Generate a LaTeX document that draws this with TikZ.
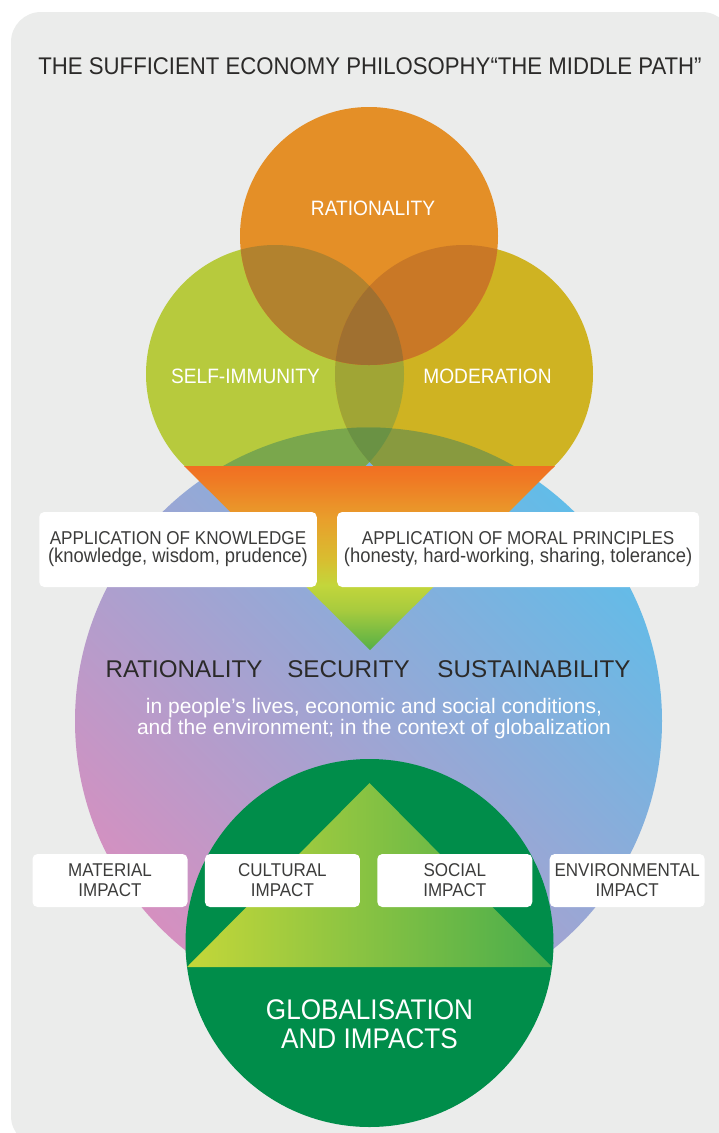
\documentclass[tikz,border=0pt]{standalone}
\usepackage{fontspec}
\setmainfont{Liberation Sans}
\newfontfamily\narrowfont[FakeStretch=0.92]{Liberation Sans}
\usetikzlibrary{positioning}

\definecolor{bggray}{HTML}{EBECEB}
\definecolor{ratorange}{HTML}{E48F27}
\definecolor{immgreen}{HTML}{B7CA3D}
\definecolor{modyellow}{HTML}{CFB322}
\definecolor{ratimm}{HTML}{B2822E}
\definecolor{ratmod}{HTML}{C97826}
\definecolor{ratimmmod}{HTML}{A07030}
\definecolor{immmod}{HTML}{A0A535}
\definecolor{lowimm}{HTML}{7AA74C}
\definecolor{lowmod}{HTML}{889A3F}
\definecolor{lowboth}{HTML}{6A9244}
\definecolor{corepink}{HTML}{D590C0}
\definecolor{corelav}{HTML}{A8A9D8}
\definecolor{coreblue}{HTML}{62BCE8}
\definecolor{globgreen}{HTML}{008D4A}
\definecolor{trileft}{HTML}{C4D739}
\definecolor{trimid}{HTML}{8CC043}
\definecolor{triright}{HTML}{48AD4C}
\definecolor{darktext}{HTML}{2B2A29}
\definecolor{boxtext}{HTML}{3C3C3B}
\definecolor{fo1}{HTML}{F16F22}
\definecolor{fo2}{HTML}{EF7A24}
\definecolor{fo3}{HTML}{E8A02C}
\definecolor{fo4}{HTML}{D8BE30}
\definecolor{fo5}{HTML}{C3D63B}
\definecolor{fo6}{HTML}{A8CB3E}
\definecolor{fo7}{HTML}{55B046}

% funnel: green at the tip, orange at the top
\pgfdeclareverticalshading{funnel}{100bp}{color(0bp)=(fo7); color(25bp)=(fo7);
  color(35.9bp)=(fo6); color(42.7bp)=(fo5); color(49.5bp)=(fo4);
  color(60.3bp)=(fo3); color(71.2bp)=(fo2); color(75bp)=(fo1); color(100bp)=(fo1)}

\tikzset{
  titletext/.style={text=darktext, anchor=base, inner sep=0pt,
    font=\narrowfont\fontsize{24.1}{24}\selectfont},
  circlelabel/.style={text=white, anchor=base, inner sep=0pt,
    font=\narrowfont\fontsize{20.8}{21}\selectfont},
  keyword/.style={text=darktext, anchor=base, inner sep=0pt,
    font=\fontsize{24.2}{24}\selectfont},
  whitelines/.style={text=white, align=center, inner sep=0pt,
    font=\fontsize{21}{21}\selectfont},
  infobox/.style={fill=white, rounded corners=5pt, align=center, text=boxtext,
    inner sep=0pt, minimum height=75pt,
    font=\narrowfont\fontsize{18.6}{18}\selectfont},
  impactbox/.style={fill=white, rounded corners=5pt, align=center, text=boxtext,
    inner sep=0pt, minimum width=155pt, minimum height=53pt,
    font=\narrowfont\fontsize{18.5}{20}\selectfont},
  globtext/.style={text=white, align=center, inner sep=0pt,
    font=\narrowfont\fontsize{28.4}{29}\selectfont}
}

\def\rad{129}

\begin{document}
\begin{tikzpicture}[x=1pt,y=-1pt]
  \useasboundingbox (0,0) rectangle (718,1133);
  \fill[bggray, rounded corners=30pt] (11,12) rectangle (732,1146);

  \coordinate (rat) at (369,236);
  \coordinate (imm) at (275,374);
  \coordinate (mod) at (464,374);
  \coordinate (core) at (368.5,721);
  \coordinate (globc) at (369.5,943);

  % big circle
  \shade[left color=corepink, middle color=corelav, right color=coreblue,
    shading angle=135] (core) circle (293.5);

  % the three circles
  \fill[immgreen] (imm) circle (\rad);
  \fill[modyellow] (mod) circle (\rad);
  \begin{scope}
    \clip (imm) circle (\rad);
    \fill[immmod] (mod) circle (\rad);
  \end{scope}
  \fill[ratorange] (rat) circle (\rad);
  \begin{scope}
    \clip (rat) circle (\rad);
    \fill[ratimm] (imm) circle (\rad);
    \fill[ratmod] (mod) circle (\rad);
    \clip (imm) circle (\rad);
    \fill[ratimmmod] (mod) circle (\rad);
  \end{scope}
  \begin{scope}
    \clip (core) circle (293.5);
    \fill[lowimm] (imm) circle (\rad);
    \fill[lowmod] (mod) circle (\rad);
    \clip (imm) circle (\rad);
    \fill[lowboth] (mod) circle (\rad);
  \end{scope}

  \shade[shading=funnel] (184,466) -- (555,466) -- (370,650) -- cycle;

  % globalisation
  \fill[globgreen] (globc) circle (184);
  \shade[left color=trileft, middle color=trimid, right color=triright]
    (369.5,783) -- (552,967) -- (187,967) -- cycle;

  \node[titletext] (title) at (370,74)
    {THE SUFFICIENT ECONOMY PHILOSOPHY“THE MIDDLE PATH”};

  \node[circlelabel] (ratlabel) at (373,215) {RATIONALITY};
  \node[circlelabel] (immlabel) at (245.5,383) {SELF-IMMUNITY};
  \node[circlelabel] (modlabel) at (487.5,383) {MODERATION};

  \node[infobox, minimum width=277.5pt] (knowledge) at (178,549.5)
    {APPLICATION OF KNOWLEDGE\\
     \fontsize{20}{18}\selectfont(knowledge, wisdom, prudence)};
  \node[infobox, minimum width=362pt, right=20pt of knowledge] (moral)
    {APPLICATION OF MORAL PRINCIPLES\\
     \fontsize{20}{18}\selectfont(honesty, hard-working, sharing, tolerance)};

  \node[keyword] (rationality) at (184,677) {RATIONALITY};
  \node[keyword] (security) at (348.5,677) {SECURITY};
  \node[keyword] (sustainability) at (534,677) {SUSTAINABILITY};
  \node[whitelines] (context) at (374,719)
    {in people’s lives, economic and social conditions,\\
     and the environment; in the context of globalization};

  \node[impactbox] (material) at (110,880.5) {MATERIAL\\IMPACT};
  \node[impactbox, right=17pt of material] (cultural) {CULTURAL\\IMPACT};
  \node[impactbox, right=17pt of cultural] (social) {SOCIAL\\IMPACT};
  \node[impactbox, right=17pt of social] (environmental) {ENVIRONMENTAL\\IMPACT};

  \node[globtext] (globlabel) at (369.5,1024.2) {GLOBALISATION\\AND IMPACTS};
\end{tikzpicture}
\end{document}
